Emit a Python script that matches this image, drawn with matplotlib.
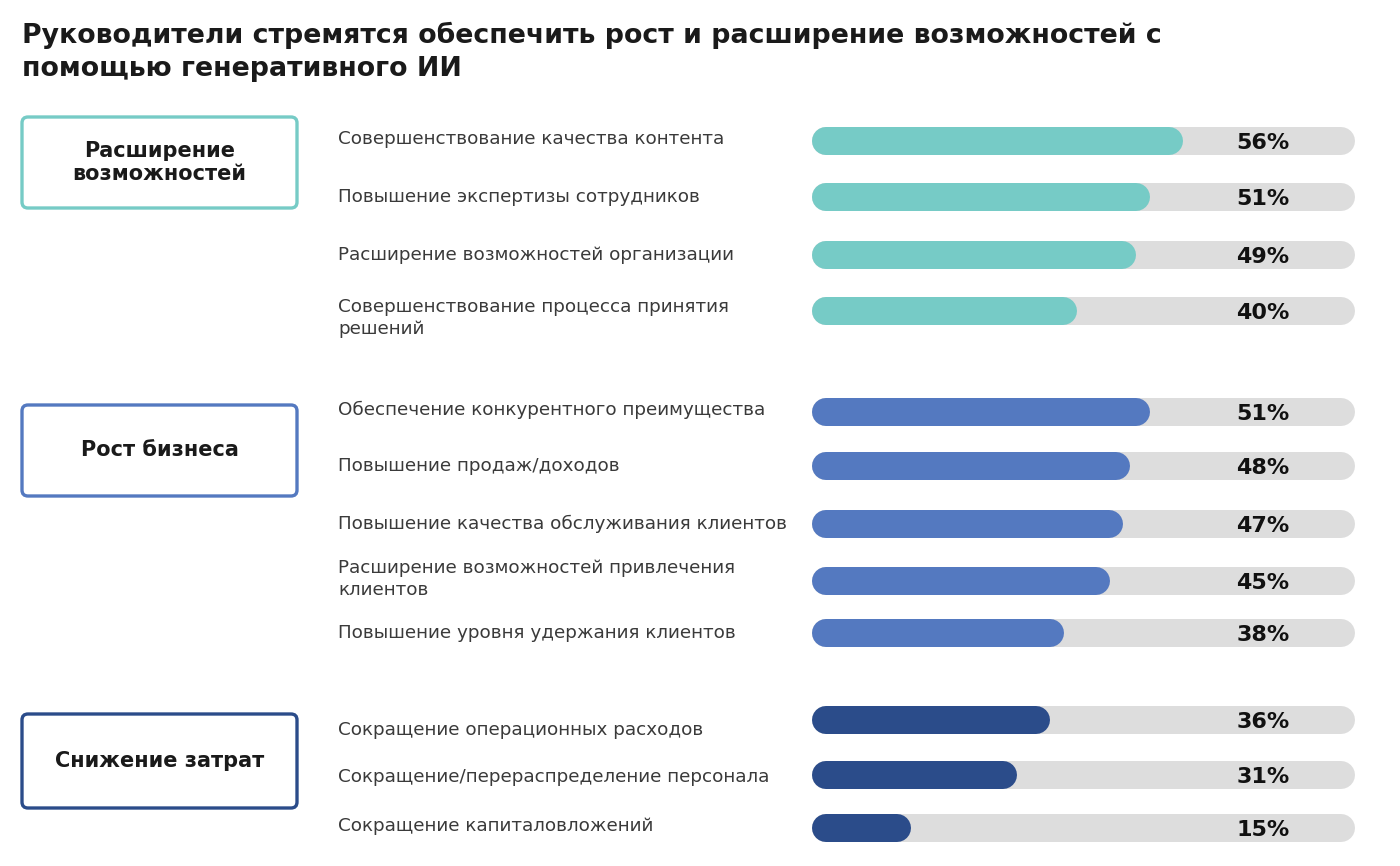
import numpy as np
import matplotlib.pyplot as plt
from matplotlib.patches import FancyBboxPatch

# =========================
# 1) DATA
# =========================
title = ("Руководители стремятся обеспечить рост и расширение возможностей с\n"
         "помощью генеративного ИИ")

groups = ["Расширение\nвозможностей", "Рост бизнеса", "Снижение затрат"]

labels_g1 = ["Совершенствование качества контента",
             "Повышение экспертизы сотрудников",
             "Расширение возможностей организации",
             "Совершенствование процесса принятия\nрешений"]
values_g1 = [56, 51, 49, 40]

labels_g2 = ["Обеспечение конкурентного преимущества",
             "Повышение продаж/доходов",
             "Повышение качества обслуживания клиентов",
             "Расширение возможностей привлечения\nклиентов",
             "Повышение уровня удержания клиентов"]
values_g2 = [51, 48, 47, 45, 38]

labels_g3 = ["Сокращение операционных расходов",
             "Сокращение/перераспределение персонала",
             "Сокращение капиталовложений"]
values_g3 = [36, 31, 15]

# =========================
# 2) LAYOUT / STYLE
# =========================
W, H = 1400, 866
colors = ["#76cbc6", "#5479c0", "#2b4c8a"]
track_color = "#dddddd"
row_y = [[141, 197, 255, 311],
         [412, 466, 524, 581, 633],
         [720, 775, 828]]
label_dy = [[-2, 0, 0, 7], [-2, 0, 0, -2, 0], [10, 2, -2]]
box_y = [(117, 208), (405, 496), (714, 808)]
bar_left, bar_right = 812, 1355
bar_h_px = 28
x_max = 82

plt.rcParams['font.family'] = ['DejaVu Sans']

fig = plt.figure(figsize=(W / 100, H / 100), dpi=100)
fig.patch.set_facecolor("white")

bg = fig.add_axes([0, 0, 1, 1])
bg.set_xlim(0, W)
bg.set_ylim(H, 0)
bg.axis("off")

ax = fig.add_axes([bar_left / W, 0, (bar_right - bar_left) / W, 1])
ax.set_xlim(0, x_max)
ax.set_ylim(H, 0)
ax.axis("off")
ax.patch.set_alpha(0)

lw_pt = bar_h_px * 72 / 100
r = (bar_h_px / 2) * x_max / (bar_right - bar_left)   # cap radius in data units

# title
bg.text(22, 22, title, fontsize=19.3, fontweight="bold", color="#1a1a1a",
        va="top", ha="left", linespacing=1.36)

all_labels = [labels_g1, labels_g2, labels_g3]
all_values = [values_g1, values_g2, values_g3]

for g in range(3):
    y0, y1 = box_y[g]
    box = FancyBboxPatch((22, y0), 275, y1 - y0,
                         boxstyle="round,pad=0,rounding_size=6",
                         fc="white", ec=colors[g], lw=2.4)
    bg.add_patch(box)
    bg.text(159.5, (y0 + y1) / 2, groups[g], ha="center", va="center",
            fontsize=15, fontweight="bold", color="#1a1a1a", linespacing=1.2)

    for lab, val, y, dy in zip(all_labels[g], all_values[g], row_y[g], label_dy[g]):
        bg.text(338, y + dy, lab, ha="left", va="center", fontsize=13.2,
                color="#3a3a3a", linespacing=1.25)
        # track
        ax.plot([r, x_max - r], [y, y], color=track_color, lw=lw_pt,
                solid_capstyle="round")
        # fill
        ax.plot([r, val - r], [y, y], color=colors[g], lw=lw_pt,
                solid_capstyle="round")
        ax.text(x_max * 0.83, y + 2, f"{val}%", ha="center", va="center",
                fontsize=16, fontweight="bold", color="#111111")

plt.savefig("out.png", dpi=100)
